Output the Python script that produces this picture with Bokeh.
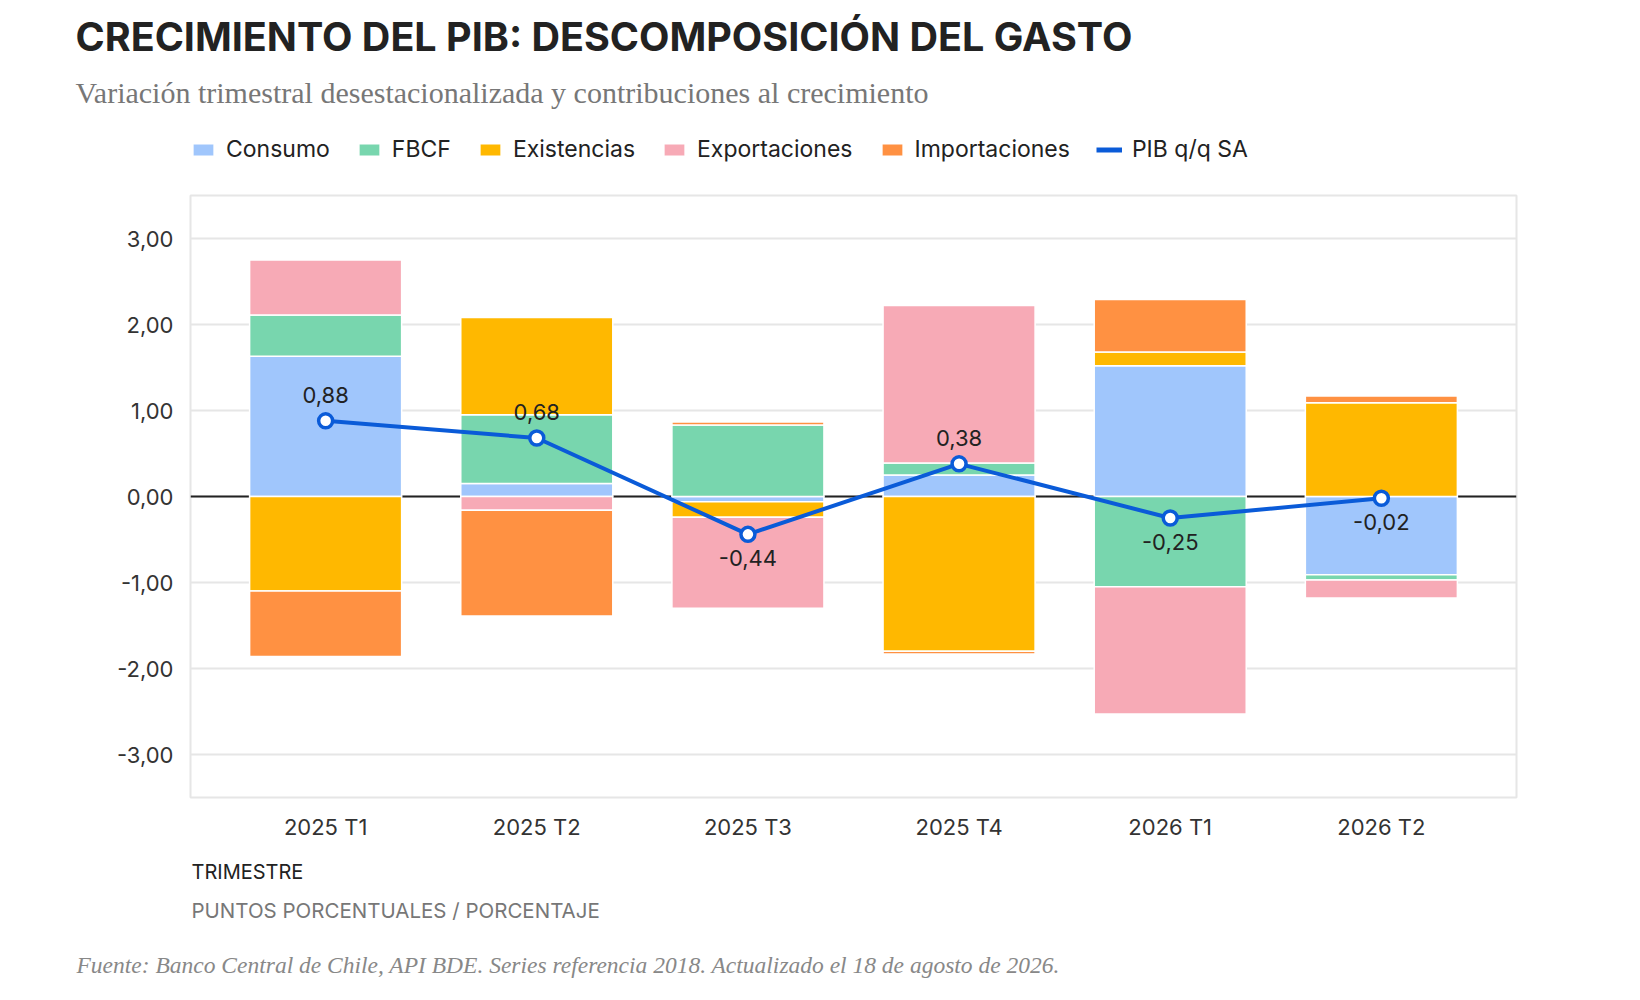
from bokeh.plotting import figure
from bokeh.layouts import column
from bokeh.models import (FactorRange, Range1d, Span, Label, Legend, LegendItem,
                          FixedTicker, CustomJSTickFormatter, ColumnDataSource)
from bokeh.core.properties import value
from bokeh.embed import file_html
from bokeh.resources import INLINE

# ---------------- data ----------------
quarters = ["2025 T1", "2025 T2", "2025 T3", "2025 T4", "2026 T1", "2026 T2"]
series_names = ["Consumo", "FBCF", "Existencias", "Exportaciones", "Importaciones"]
consumo = [1.63, 0.15, -0.06, 0.25, 1.52, -0.91]
fbcf = [0.48, 0.80, 0.83, 0.14, -1.05, -0.06]
existencias = [-1.10, 1.13, -0.18, -1.80, 0.16, 1.09]
exportaciones = [0.64, -0.16, -1.06, 1.83, -1.48, -0.21]
importaciones = [-0.76, -1.23, 0.035, -0.03, 0.61, 0.08]
pib = [0.88, 0.68, -0.44, 0.38, -0.25, -0.02]
y_ticks = [-3, -2, -1, 0, 1, 2, 3]

title_text = "CRECIMIENTO DEL PIB: DESCOMPOSICIÓN DEL GASTO"
subtitle_text = "Variación trimestral desestacionalizada y contribuciones al crecimiento"
xlabel_text = "TRIMESTRE"
ylabel_text = "PUNTOS PORCENTUALES / PORCENTAJE"
source_text = ("Fuente: Banco Central de Chile, API BDE. Series referencia 2018. "
               "Actualizado el 18 de agosto de 2026.")
line_name = "PIB q/q SA"

# ---------------- style ----------------
SANS = "Inter"
SERIF = "Liberation Serif"
colors = ["#a0c6fc", "#78d6ae", "#ffb800", "#f7aab6", "#ff9142"]
line_color = "#0a5bd8"
ink = "#222222"
W = 1624


def blank_panel(height, y_top):
    """A figure whose frame fills the canvas; y runs downward in pixels."""
    f = figure(width=W, height=height, x_range=Range1d(0, W),
               y_range=Range1d(y_top + height, y_top),
               output_backend="svg", toolbar_location=None, title_location=None,
               x_axis_location=None, y_axis_location=None,
               min_border=0, min_border_left=0, min_border_right=0,
               min_border_top=0, min_border_bottom=0)
    f.frame_align = False
    f.outline_line_color = None
    f.xgrid.grid_line_color = None
    f.ygrid.grid_line_color = None
    f.background_fill_color = "white"
    f.border_fill_color = "white"
    return f


# ---------------- header: title, subtitle, legend ----------------
head = blank_panel(180, 0)
head.add_layout(Label(x=75, y=36, text=title_text, text_font=SANS,
                      text_font_size="39.5px", text_font_style="bold",
                      text_color=ink, text_baseline="middle"))
head.add_layout(Label(x=75, y=91.5, text=subtitle_text, text_font=SERIF,
                      text_font_size="30px", text_color="#777777",
                      text_baseline="middle"))

# legend keys (zero-size keys placed outside the visible range)
legend_items = []
for name, col in zip(series_names, colors):
    key = head.vbar(x=[-50], top=[0], bottom=[0], width=1, fill_color=col,
                    line_color="white", line_width=1)
    legend_items.append(LegendItem(label=name, renderers=[key]))
key_line = head.line(x=[-60, -50], y=[-10, -10], line_color=line_color, line_width=5)
legend_items.append(LegendItem(label=line_name, renderers=[key_line]))

legend = Legend(items=legend_items, orientation="horizontal",
                location=(190, 17), padding=0, margin=0, spacing=26,
                glyph_width=26, glyph_height=15, label_standoff=10,
                label_height=15, label_text_font=SANS, label_text_font_size="23px",
                label_text_color=ink, border_line_color=None,
                background_fill_alpha=0)
head.add_layout(legend)

# ---------------- main chart ----------------
p = figure(width=W, height=670,
           x_range=FactorRange(factors=quarters, range_padding=0.14,
                               range_padding_units="absolute"),
           y_range=Range1d(-3.5, 3.5),
           output_backend="svg", toolbar_location=None, title_location=None,
           min_border_left=190, min_border_right=108,
           min_border_top=15, min_border_bottom=53)
p.frame_align = False
p.background_fill_color = "white"
p.border_fill_color = "white"
p.outline_line_color = "#e6e6e6"
p.outline_line_width = 2

p.xgrid.grid_line_color = None
p.ygrid.grid_line_color = "#e6e6e6"
p.ygrid.grid_line_width = 2
p.ygrid.ticker = FixedTicker(ticks=y_ticks)

p.yaxis.ticker = FixedTicker(ticks=y_ticks)
p.yaxis.formatter = CustomJSTickFormatter(code="return tick.toFixed(2).replace('.', ',');")
for ax in (p.xaxis[0], p.yaxis[0]):
    ax.axis_line_color = None
    ax.major_tick_line_color = None
    ax.minor_tick_line_color = None
    ax.major_tick_out = 0
    ax.major_tick_in = 0
    ax.major_label_text_font = SANS
    ax.major_label_text_color = "#333333"
p.yaxis.major_label_text_font_size = "22px"
p.yaxis.major_label_standoff = 17
p.xaxis.major_label_text_font_size = "22px"
p.xaxis.major_label_standoff = 16

zero = Span(location=0, dimension="width", line_color=ink, line_width=2, level="underlay")
p.add_layout(zero)

series_values = [consumo, fbcf, existencias, exportaciones, importaciones]
n = len(quarters)
pos = [0.0] * n
neg = [0.0] * n
for name, vals, col in zip(series_names, series_values, colors):
    bottoms, tops = [], []
    for i, v in enumerate(vals):
        if v >= 0:
            b = pos[i]; t = b + v; pos[i] = t
        else:
            b = neg[i]; t = b + v; neg[i] = t
        bottoms.append(b); tops.append(t)
    src = ColumnDataSource(dict(x=quarters, bottom=bottoms, top=tops))
    p.vbar(x="x", bottom="bottom", top="top", width=0.72, source=src,
           fill_color=col, line_color="white", line_width=1.5, name=name)

lsrc = ColumnDataSource(dict(
    x=quarters, y=pib,
    lbl=[f"{v:.2f}".replace(".", ",") for v in pib],
    off=[-26 if v >= 0 else 24 for v in pib]))
p.line(x="x", y="y", source=lsrc, line_color=line_color, line_width=4, name=line_name)
p.scatter(x="x", y="y", source=lsrc, size=14, fill_color="white",
          line_color=line_color, line_width=3.5)
p.text(x="x", y="y", text="lbl", y_offset="off", source=lsrc,
       text_align="center", text_baseline="middle",
       text_font=value(SANS), text_font_size="22px", text_color=ink)

# ---------------- footer ----------------
foot = blank_panel(134, 850)
foot.add_layout(Label(x=191, y=871, text=xlabel_text, text_font=SANS,
                      text_font_size="20px", text_color=ink, text_baseline="middle"))
foot.add_layout(Label(x=191, y=910, text=ylabel_text, text_font=SANS,
                      text_font_size="20.5px", text_color="#777777", text_baseline="middle"))
foot.add_layout(Label(x=76, y=964, text=source_text, text_font=SERIF,
                      text_font_size="23.5px", text_font_style="italic",
                      text_color="#888888", text_baseline="middle"))

layout = column(head, p, foot, spacing=0)
open("out.html", "w").write(file_html(layout, INLINE))
